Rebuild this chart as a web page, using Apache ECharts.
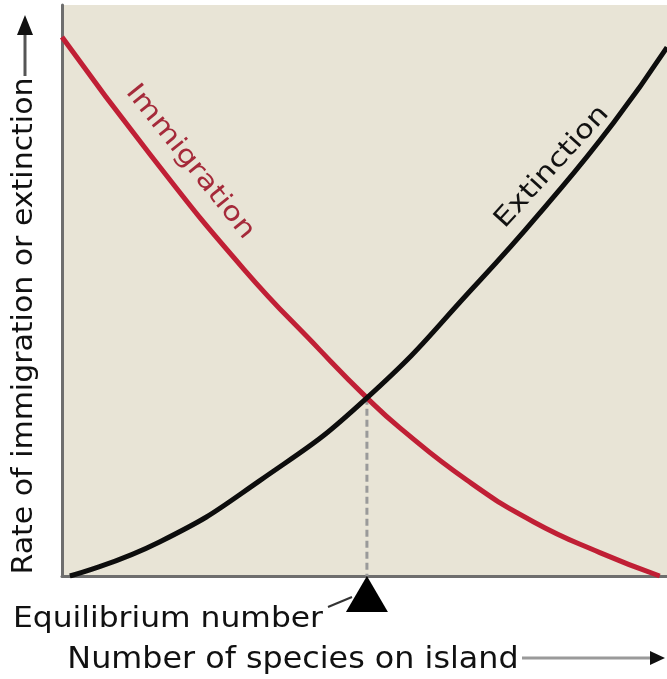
<!DOCTYPE html>
<html>
<head>
<meta charset="utf-8">
<script src="https://cdn.jsdelivr.net/npm/echarts@6/dist/echarts.min.js"></script>
<style>html,body{margin:0;padding:0;background:#fff}#c{width:667px;height:679px}</style>
</head>
<body>
<div id="c"></div>
<script>
// Immigration curve (x = number of species, y = rate)
var immigrationX = [0, 14.5, 30, 42.6, 50.4, 55.9, 66.9, 77.9, 88.9, 98.8];
var immigrationY = [94.4, 73.9, 53.8, 39.6, 31.2, 25.9, 16.8, 9.5, 4.1, 0];
// Extinction curve
var extinctionX = [1.3, 16.2, 32.7, 50.4, 69.1, 80.2, 91.1, 100];
var extinctionY = [0, 6.0, 16.7, 31.2, 51.8, 65.1, 79.3, 92.6];
// Equilibrium point
var equilibriumX = 50.4;
var equilibriumY = 31.2;

var curveLabels = ['Immigration', 'Extinction'];
var equilibriumLabel = 'Equilibrium number';
var xAxisLabel = 'Number of species on island';
var yAxisLabel = 'Rate of immigration or extinction';

function pairs(xs, ys) { return xs.map(function (x, i) { return [x, ys[i]]; }); }

var chart = echarts.init(document.getElementById('c'));
var FONT = 'DejaVu Sans';
function txt(text, x, y, size, rot, sx, color) {
  return {
    type: 'text', x: x, y: y, rotation: rot, scaleX: sx, scaleY: 1, z: 100,
    style: { text: text, x: 0, y: 0, fill: color || '#111', fontFamily: FONT, fontSize: size,
      textAlign: 'center', textVerticalAlign: 'middle', align: 'center', verticalAlign: 'middle' }
  };
}
chart.setOption({
  animation: false,
  grid: { left: 62, right: 0, top: 5, bottom: 103, show: true, backgroundColor: '#e8e4d6', borderWidth: 0 },
  xAxis: { type: 'value', min: 0, max: 100, axisLine: { show: true, onZero: false, lineStyle: { color: '#6e6e6e', width: 3 } },
    axisTick: { show: false }, axisLabel: { show: false }, splitLine: { show: false } },
  yAxis: { type: 'value', min: 0, max: 100, axisLine: { show: true, onZero: false, lineStyle: { color: '#6e6e6e', width: 3 } },
    axisTick: { show: false }, axisLabel: { show: false }, splitLine: { show: false } },
  series: [
    { type: 'line', data: [[equilibriumX, equilibriumY], [equilibriumX, 0]], symbol: 'none', z: 1,
      lineStyle: { color: '#9a9a9a', width: 3, type: [7, 4] } },
    { type: 'line', name: curveLabels[0], data: pairs(immigrationX, immigrationY), smooth: 0.5, symbol: 'none', z: 3,
      lineStyle: { color: '#c01f35', width: 5 } },
    { type: 'line', name: curveLabels[1], data: pairs(extinctionX, extinctionY), smooth: 0.5, symbol: 'none', z: 4,
      lineStyle: { color: '#0d0d0d', width: 5 } },
    { type: 'scatter', data: [[equilibriumX, 0]], symbol: 'triangle', symbolSize: [42, 36], symbolOffset: [0, 18],
      clip: false, z: 5, itemStyle: { color: '#000', opacity: 1 } }
  ],
  graphic: [
    txt(curveLabels[0], 190, 162, 26, -0.895, 1.2, '#a52a3a'),
    txt(curveLabels[1], 552, 167, 26, 0.83, 1.2, '#111'),
    txt(yAxisLabel, 25, 326, 28, Math.PI / 2, 1.07),
    txt(equilibriumLabel, 168, 620, 28, 0, 1.12),
    txt(xAxisLabel, 293, 660, 30, 0, 1.06),
    { type: 'line', shape: { x1: 328, y1: 607, x2: 352, y2: 597 }, style: { stroke: '#333', lineWidth: 2 } },
    { type: 'line', shape: { x1: 522, y1: 658, x2: 652, y2: 658 }, style: { stroke: '#9a9a9a', lineWidth: 3 } },
    { type: 'polygon', shape: { points: [[650, 651], [665, 658], [650, 665]] }, style: { fill: '#111' } },
    { type: 'line', shape: { x1: 25, y1: 76, x2: 25, y2: 30 }, style: { stroke: '#555', lineWidth: 3 } },
    { type: 'polygon', shape: { points: [[17, 35], [25, 15], [33, 35]] }, style: { fill: '#111' } }
  ]
});
</script>
</body>
</html>
